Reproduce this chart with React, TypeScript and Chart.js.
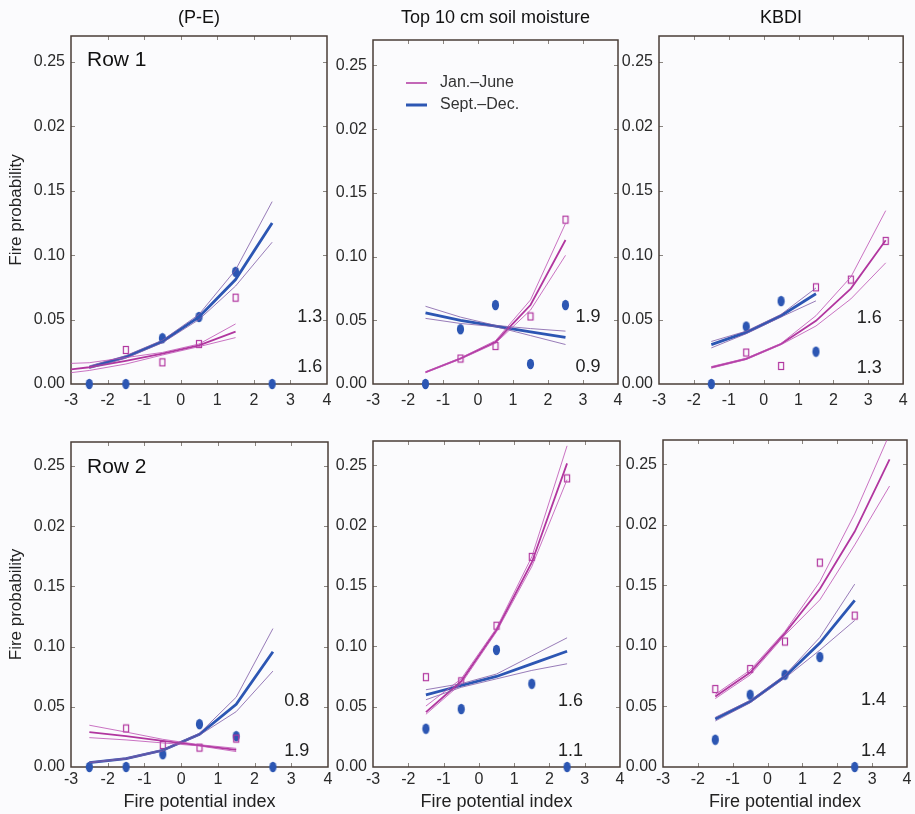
import React, { useEffect, useRef } from "react";
import { Chart, registerables } from "chart.js";

Chart.register(...registerables);

const FONT = "'Liberation Sans', Arial, Helvetica, sans-serif";
Chart.defaults.font.family = FONT;

// ---------- axes & text ----------
const xTickValues = [-3, -2, -1, 0, 1, 2, 3, 4];
const xTickLabels = ["-3", "-2", "-1", "0", "1", "2", "3", "4"];
const yTickValues = [0, 0.05, 0.1, 0.15, 0.2, 0.25];
const yTickLabels = ["0.00", "0.05", "0.10", "0.15", "0.02", "0.25"];
const columnTitles = ["(P-E)", "Top 10 cm soil moisture", "KBDI"];
const rowLabels = ["Row 1", "Row 2"];
const seriesNames = ["Jan.–June", "Sept.–Dec."];
const yAxisTitle = "Fire probability";
const xAxisTitle = "Fire potential index";

// ---------- Panel 1 : Row 1, (P-E) ----------
const p1JanX = [-3, -2.5, -1.5, -0.5, 0.5, 1.5];
const p1JanFit = [0.0114, 0.013, 0.018, 0.0235, 0.03, 0.0406];
const p1JanHi = [0.016, 0.0165, 0.0205, 0.0245, 0.031, 0.0466];
const p1JanLo = [0.0088, 0.0105, 0.0155, 0.0225, 0.029, 0.036];
const p1JanObsX = [-1.5, -0.5, 0.5, 1.5];
const p1JanObs = [0.0264, 0.0168, 0.031, 0.067];
const p1SepX = [-2.5, -1.5, -0.5, 0.5, 1.5, 2.5];
const p1SepFit = [0.013, 0.021, 0.033, 0.052, 0.081, 0.125];
const p1SepHi = [0.014, 0.022, 0.034, 0.054, 0.0885, 0.1415];
const p1SepLo = [0.012, 0.02, 0.032, 0.05, 0.076, 0.11];
const p1SepObsX = [-2.5, -1.5, -0.5, 0.5, 1.5, 2.5];
const p1SepObs = [0, 0, 0.0355, 0.052, 0.087, 0];
const p1Notes = ["1.3", "1.6"];
const p1NoteX = [3.53, 3.53];
const p1NoteY = [0.052, 0.013];

// ---------- Panel 2 : Row 1, soil moisture ----------
const p2JanX = [-1.5, -0.5, 0.5, 1.5, 2.5];
const p2JanFit = [0.0092, 0.02, 0.033, 0.062, 0.113];
const p2JanHi = [0.0096, 0.0205, 0.034, 0.066, 0.126];
const p2JanLo = [0.0088, 0.0195, 0.032, 0.058, 0.101];
const p2JanObsX = [-0.5, 0.5, 1.5, 2.5];
const p2JanObs = [0.02, 0.0298, 0.053, 0.129];
const p2SepX = [-1.5, -0.5, 0.5, 1.5, 2.5];
const p2SepFit = [0.0559, 0.05, 0.0455, 0.041, 0.0366];
const p2SepHi = [0.061, 0.0525, 0.046, 0.0435, 0.0415];
const p2SepLo = [0.0515, 0.0475, 0.045, 0.038, 0.031];
const p2SepObsX = [-1.5, -0.5, 0.5, 1.5, 2.5];
const p2SepObs = [0, 0.043, 0.062, 0.0157, 0.062];
const p2Notes = ["1.9", "0.9"];
const p2NoteX = [3.14, 3.14];
const p2NoteY = [0.0523, 0.0131];

// ---------- Panel 3 : Row 1, KBDI ----------
const p3JanX = [-1.5, -0.5, 0.5, 1.5, 2.5, 3.5];
const p3JanFit = [0.0129, 0.0195, 0.031, 0.049, 0.074, 0.1116];
const p3JanHi = [0.0135, 0.02, 0.0315, 0.053, 0.083, 0.1345];
const p3JanLo = [0.0123, 0.019, 0.0305, 0.045, 0.066, 0.094];
const p3JanObsX = [-0.5, 0.5, 1.5, 2.5, 3.5];
const p3JanObs = [0.0244, 0.014, 0.075, 0.081, 0.111];
const p3SepX = [-1.5, -0.5, 0.5, 1.5];
const p3SepFit = [0.0306, 0.04, 0.053, 0.07];
const p3SepHi = [0.033, 0.041, 0.054, 0.0745];
const p3SepLo = [0.028, 0.039, 0.052, 0.0645];
const p3SepObsX = [-1.5, -0.5, 0.5, 1.5];
const p3SepObs = [0, 0.0446, 0.0643, 0.0251];
const p3Notes = ["1.6", "1.3"];
const p3NoteX = [3.03, 3.03];
const p3NoteY = [0.0514, 0.0125];

// ---------- Panel 4 : Row 2, (P-E) ----------
const p4JanX = [-2.5, -1.5, -0.5, 0.5, 1.5];
const p4JanFit = [0.029, 0.0256, 0.0217, 0.018, 0.0142];
const p4JanHi = [0.0347, 0.029, 0.023, 0.0185, 0.0155];
const p4JanLo = [0.0244, 0.0225, 0.02, 0.0175, 0.0128];
const p4JanObsX = [-1.5, -0.5, 0.5, 1.5];
const p4JanObs = [0.032, 0.0183, 0.0161, 0.0236];
const p4SepX = [-2.5, -1.5, -0.5, 0.5, 1.5, 2.5];
const p4SepFit = [0.0037, 0.007, 0.0139, 0.0272, 0.052, 0.0958];
const p4SepHi = [0.004, 0.0075, 0.0145, 0.028, 0.058, 0.115];
const p4SepLo = [0.0034, 0.0065, 0.0133, 0.0265, 0.046, 0.0797];
const p4SepObsX = [-2.5, -1.5, -0.5, 0.5, 1.5, 2.5];
const p4SepObs = [0, 0, 0.0106, 0.0356, 0.0256, 0];
const p4Notes = ["0.8", "1.9"];
const p4NoteX = [3.15, 3.15];
const p4NoteY = [0.055, 0.0133];

// ---------- Panel 5 : Row 2, soil moisture ----------
const p5JanX = [-1.5, -0.5, 0.5, 1.5, 2.5];
const p5JanFit = [0.0455, 0.071, 0.1135, 0.1694, 0.2515];
const p5JanHi = [0.0505, 0.073, 0.115, 0.174, 0.266];
const p5JanLo = [0.0437, 0.069, 0.112, 0.166, 0.238];
const p5JanObsX = [-1.5, -0.5, 0.5, 1.5, 2.5];
const p5JanObs = [0.0744, 0.071, 0.117, 0.174, 0.239];
const p5SepX = [-1.5, -0.5, 0.5, 1.5, 2.5];
const p5SepFit = [0.0598, 0.0675, 0.075, 0.0854, 0.0959];
const p5SepHi = [0.064, 0.069, 0.077, 0.092, 0.107];
const p5SepLo = [0.0557, 0.066, 0.073, 0.08, 0.0855];
const p5SepObsX = [-1.5, -0.5, 0.5, 1.5, 2.5];
const p5SepObs = [0.0317, 0.048, 0.097, 0.0689, 0];
const p5Notes = ["1.6", "1.1"];
const p5NoteX = [2.6, 2.6];
const p5NoteY = [0.0545, 0.0132];

// ---------- Panel 6 : Row 2, KBDI ----------
const p6JanX = [-1.5, -0.5, 0.5, 1.5, 2.5, 3.5];
const p6JanFit = [0.0582, 0.078, 0.1106, 0.1469, 0.1944, 0.254];
const p6JanHi = [0.06, 0.08, 0.112, 0.153, 0.209, 0.275];
const p6JanLo = [0.0565, 0.076, 0.109, 0.138, 0.1834, 0.232];
const p6JanObsX = [-1.5, -0.5, 0.5, 1.5, 2.5];
const p6JanObs = [0.0644, 0.0809, 0.1036, 0.1688, 0.125];
const p6SepX = [-1.5, -0.5, 0.5, 1.5, 2.5];
const p6SepFit = [0.0396, 0.054, 0.0748, 0.1023, 0.1375];
const p6SepHi = [0.041, 0.055, 0.076, 0.107, 0.151];
const p6SepLo = [0.038, 0.053, 0.0735, 0.0965, 0.121];
const p6SepObsX = [-1.5, -0.5, 0.5, 1.5, 2.5];
const p6SepObs = [0.0225, 0.0597, 0.0762, 0.0908, 0];
const p6Notes = ["1.4", "1.4"];
const p6NoteX = [3.04, 3.04];
const p6NoteY = [0.055, 0.0135];

// ---------- styles ----------
const JAN_COLOR = "#b1369f";
const JAN_CI = "#bd4fb3";
const SEP_COLOR = "#2c56b3";
const SEP_CI = "#7d5aa6";
const FRAME = "#4a3e37";
const TICKMARK = "#8a8580";
const TEXT = "#222222";
const BG = "#fbfbfd";

type PanelData = {
  janX: number[]; janFit: number[]; janHi: number[]; janLo: number[];
  janObsX: number[]; janObs: number[];
  sepX: number[]; sepFit: number[]; sepHi: number[]; sepLo: number[];
  sepObsX: number[]; sepObs: number[];
  notes: string[]; noteX: number[]; noteY: number[];
};

const panelData: PanelData[] = [
  { janX: p1JanX, janFit: p1JanFit, janHi: p1JanHi, janLo: p1JanLo, janObsX: p1JanObsX, janObs: p1JanObs,
    sepX: p1SepX, sepFit: p1SepFit, sepHi: p1SepHi, sepLo: p1SepLo, sepObsX: p1SepObsX, sepObs: p1SepObs,
    notes: p1Notes, noteX: p1NoteX, noteY: p1NoteY },
  { janX: p2JanX, janFit: p2JanFit, janHi: p2JanHi, janLo: p2JanLo, janObsX: p2JanObsX, janObs: p2JanObs,
    sepX: p2SepX, sepFit: p2SepFit, sepHi: p2SepHi, sepLo: p2SepLo, sepObsX: p2SepObsX, sepObs: p2SepObs,
    notes: p2Notes, noteX: p2NoteX, noteY: p2NoteY },
  { janX: p3JanX, janFit: p3JanFit, janHi: p3JanHi, janLo: p3JanLo, janObsX: p3JanObsX, janObs: p3JanObs,
    sepX: p3SepX, sepFit: p3SepFit, sepHi: p3SepHi, sepLo: p3SepLo, sepObsX: p3SepObsX, sepObs: p3SepObs,
    notes: p3Notes, noteX: p3NoteX, noteY: p3NoteY },
  { janX: p4JanX, janFit: p4JanFit, janHi: p4JanHi, janLo: p4JanLo, janObsX: p4JanObsX, janObs: p4JanObs,
    sepX: p4SepX, sepFit: p4SepFit, sepHi: p4SepHi, sepLo: p4SepLo, sepObsX: p4SepObsX, sepObs: p4SepObs,
    notes: p4Notes, noteX: p4NoteX, noteY: p4NoteY },
  { janX: p5JanX, janFit: p5JanFit, janHi: p5JanHi, janLo: p5JanLo, janObsX: p5JanObsX, janObs: p5JanObs,
    sepX: p5SepX, sepFit: p5SepFit, sepHi: p5SepHi, sepLo: p5SepLo, sepObsX: p5SepObsX, sepObs: p5SepObs,
    notes: p5Notes, noteX: p5NoteX, noteY: p5NoteY },
  { janX: p6JanX, janFit: p6JanFit, janHi: p6JanHi, janLo: p6JanLo, janObsX: p6JanObsX, janObs: p6JanObs,
    sepX: p6SepX, sepFit: p6SepFit, sepHi: p6SepHi, sepLo: p6SepLo, sepObsX: p6SepObsX, sepObs: p6SepObs,
    notes: p6Notes, noteX: p6NoteX, noteY: p6NoteY },
];

// canvas rect [left, top, width, height] and wanted plot area [left, top, right, bottom] in page px
const layouts = [
  { canvas: [0, 0, 340, 420], area: [71, 36, 327, 384] },
  { canvas: [330, 0, 300, 420], area: [373, 40, 618, 384] },
  { canvas: [615, 0, 300, 420], area: [659, 36, 908, 384] },
  { canvas: [0, 420, 340, 394], area: [71, 442, 328, 767] },
  { canvas: [330, 420, 300, 394], area: [373, 441, 620, 767] },
  { canvas: [615, 420, 300, 394], area: [663, 440, 907, 767] },
];

const zip = (xs: number[], ys: number[]) => xs.map((x, i) => ({ x, y: ys[i] }));

function makeSquare(): HTMLCanvasElement {
  const c = document.createElement("canvas");
  c.width = 8; c.height = 10;
  const g = c.getContext("2d")!;
  g.strokeStyle = JAN_COLOR;
  g.lineWidth = 1.2;
  g.strokeRect(1.5, 1.5, 5, 7);
  return c;
}

function makeDot(): HTMLCanvasElement {
  const c = document.createElement("canvas");
  c.width = 9; c.height = 12;
  const g = c.getContext("2d")!;
  g.fillStyle = SEP_COLOR;
  g.beginPath();
  g.ellipse(4.5, 6, 3.6, 5.2, 0, 0, Math.PI * 2);
  g.fill();
  return c;
}

function lineDs(data: { x: number; y: number }[], color: string, width: number) {
  return {
    type: "line" as const,
    data,
    borderColor: color,
    backgroundColor: color,
    borderWidth: width,
    pointRadius: 0,
    tension: 0,
    fill: false,
  };
}

function buildConfig(idx: number): any {
  const d = panelData[idx];
  const lay = layouts[idx];
  const row = idx < 3 ? 0 : 1;
  const col = idx % 3;
  const [cl, ct, cw, ch] = lay.canvas;
  const [al, at, ar, ab] = lay.area;
  const titleSize = 18;
  const titleLine = titleSize * 1.2;
  const titlePadTop = 18 - titleLine / 2;
  const titlePadBottom = at - ct - titlePadTop - titleLine;

  const decor = {
    id: "panelDecor" + idx,
    beforeDatasetsDraw(chart: any) {
      const { ctx, chartArea } = chart;
      const xs = chart.scales.x;
      const ys = chart.scales.y;
      ctx.save();
      ctx.strokeStyle = TICKMARK;
      ctx.lineWidth = 1;
      ctx.beginPath();
      xTickValues.forEach((v) => {
        if (v === xTickValues[0] || v === xTickValues[xTickValues.length - 1]) return;
        const px = Math.round(xs.getPixelForValue(v)) + 0.5;
        ctx.moveTo(px, chartArea.bottom);
        ctx.lineTo(px, chartArea.bottom - 4);
        ctx.moveTo(px, chartArea.top);
        ctx.lineTo(px, chartArea.top + 4);
      });
      yTickValues.forEach((v) => {
        if (v === 0) return;
        const py = Math.round(ys.getPixelForValue(v)) + 0.5;
        ctx.moveTo(chartArea.left, py);
        ctx.lineTo(chartArea.left + 4, py);
        ctx.moveTo(chartArea.right, py);
        ctx.lineTo(chartArea.right - 4, py);
      });
      ctx.stroke();
      ctx.strokeStyle = FRAME;
      ctx.lineWidth = 1.5;
      ctx.strokeRect(chartArea.left, chartArea.top, chartArea.right - chartArea.left, chartArea.bottom - chartArea.top);
      ctx.restore();
    },
    afterDatasetsDraw(chart: any) {
      const { ctx, chartArea } = chart;
      const xs = chart.scales.x;
      const ys = chart.scales.y;
      ctx.save();
      ctx.fillStyle = TEXT;
      ctx.textAlign = "center";
      ctx.textBaseline = "middle";
      ctx.font = `18px ${FONT}`;
      d.notes.forEach((t, i) => {
        ctx.fillText(t, xs.getPixelForValue(d.noteX[i]), ys.getPixelForValue(d.noteY[i]));
      });
      if (col === 0) {
        ctx.textAlign = "left";
        ctx.font = `21px ${FONT}`;
        ctx.fillStyle = "#111";
        ctx.fillText(rowLabels[row], chartArea.left + 16, chartArea.top + (row === 0 ? 24 : 25));
      }
      if (idx === 1) {
        const lx = chartArea.left + 33;
        const rows = [
          { y: chartArea.top + 43, color: JAN_COLOR, w: 1.5, text: seriesNames[0] },
          { y: chartArea.top + 65, color: SEP_COLOR, w: 3, text: seriesNames[1] },
        ];
        ctx.font = `16px ${FONT}`;
        ctx.textAlign = "left";
        rows.forEach((r) => {
          ctx.strokeStyle = r.color;
          ctx.lineWidth = r.w;
          ctx.beginPath();
          ctx.moveTo(lx, r.y);
          ctx.lineTo(lx + 21, r.y);
          ctx.stroke();
          ctx.fillStyle = "#333";
          ctx.fillText(r.text, lx + 34, r.y);
        });
      }
      ctx.restore();
    },
  };

  const square = makeSquare();
  const dot = makeDot();

  return {
    type: "line",
    data: {
      datasets: [
        lineDs(zip(d.janX, d.janHi), JAN_CI, 0.8),
        lineDs(zip(d.janX, d.janLo), JAN_CI, 0.8),
        lineDs(zip(d.sepX, d.sepHi), SEP_CI, 0.8),
        lineDs(zip(d.sepX, d.sepLo), SEP_CI, 0.8),
        lineDs(zip(d.janX, d.janFit), JAN_COLOR, 1.8),
        lineDs(zip(d.sepX, d.sepFit), SEP_COLOR, 2.8),
        {
          type: "line",
          data: zip(d.janObsX, d.janObs),
          showLine: false,
          pointStyle: square,
          pointRadius: 5,
          clip: false,
        },
        {
          type: "line",
          data: zip(d.sepObsX, d.sepObs),
          showLine: false,
          pointStyle: dot,
          pointRadius: 5,
          clip: false,
        },
      ],
    },
    options: {
      responsive: false,
      animation: false,
      events: [],
      layout: {
        padding: { left: 0, right: cl + cw - ar, top: row === 0 ? 0 : at - ct, bottom: 0 },
      },
      plugins: {
        legend: { display: false },
        tooltip: { enabled: false },
        title: {
          display: row === 0,
          text: columnTitles[col],
          fullSize: false,
          color: "#111",
          font: { size: titleSize, weight: "normal", family: FONT },
          padding: { top: titlePadTop, bottom: titlePadBottom },
        },
      },
      scales: {
        x: {
          type: "linear",
          min: -3,
          max: 4,
          afterBuildTicks: (s: any) => {
            s.ticks = xTickValues.map((v) => ({ value: v }));
          },
          afterFit: (s: any) => {
            s.height = ct + ch - ab;
          },
          ticks: {
            callback: (_v: any, i: number) => xTickLabels[i],
            font: { size: 16, family: FONT },
            color: "#2a2a2a",
            padding: row === 0 ? 7.4 : 3.4,
            maxRotation: 0,
            autoSkip: false,
          },
          grid: { display: false, drawTicks: false },
          border: { display: false },
          title: {
            display: row === 1,
            text: xAxisTitle,
            color: "#222",
            font: { size: 18, family: FONT },
            padding: { top: 0, bottom: 1.5 },
          },
        },
        y: {
          type: "linear",
          min: 0,
          max: 0.27,
          afterBuildTicks: (s: any) => {
            s.ticks = yTickValues.map((v) => ({ value: v }));
          },
          afterFit: (s: any) => {
            s.width = al - cl;
          },
          ticks: {
            callback: (_v: any, i: number) => yTickLabels[i],
            font: { size: 16, family: FONT },
            color: "#2a2a2a",
            padding: 6,
            autoSkip: false,
          },
          grid: { display: false, drawTicks: false },
          border: { display: false },
          title: {
            display: col === 0,
            text: yAxisTitle,
            color: "#222",
            font: { size: 17, family: FONT },
            padding: { top: 6.5, bottom: 0 },
          },
        },
      },
    },
    plugins: [decor],
  };
}

function Panel({ idx }: { idx: number }) {
  const ref = useRef<HTMLCanvasElement | null>(null);
  const [cl, ct, cw, ch] = layouts[idx].canvas;
  useEffect(() => {
    if (!ref.current) return;
    const chart = new Chart(ref.current, buildConfig(idx));
    return () => chart.destroy();
  }, [idx]);
  return (
    <canvas
      ref={ref}
      width={cw}
      height={ch}
      style={{ position: "absolute", left: cl, top: ct, width: cw, height: ch }}
    />
  );
}

export default function App() {
  return (
    <div
      style={{
        position: "absolute",
        left: 0,
        top: 0,
        width: 915,
        height: 814,
        background: BG,
        overflow: "hidden",
      }}
    >
      {layouts.map((_, i) => (
        <Panel key={i} idx={i} />
      ))}
    </div>
  );
}
